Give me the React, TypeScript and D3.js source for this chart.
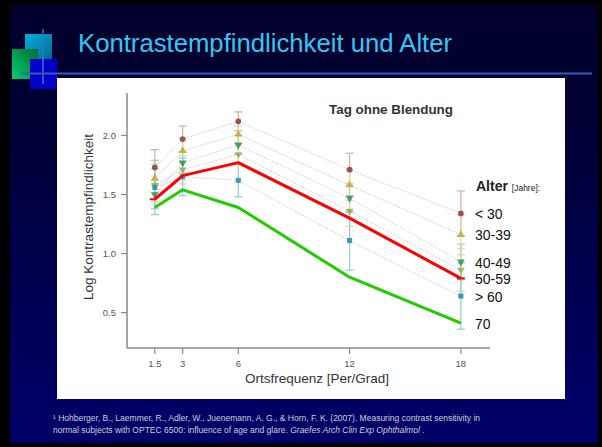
import * as d3 from "d3";

// slide + chart data
const freqs = [1.5, 3, 6, 12, 18];
const yTicks = [0.5, 1.0, 1.5, 2.0];
const groups = ["< 30", "30-39", "40-49", "50-59", "> 60"];

const lt30 = [1.73, 1.97, 2.12, 1.71, 1.34];
const age30 = [1.64, 1.87, 2.01, 1.58, 1.16];
const age40 = [1.50, 1.77, 1.92, 1.47, 0.93];
const age50 = [1.58, 1.71, 1.84, 1.36, 0.86];
const gt60 = [1.56, 1.65, 1.62, 1.11, 0.64];

const sd30 = [0.15, 0.11, 0.08, 0.14, 0.19];
const sd39 = [0.12, 0.1, 0.07, 0.13, 0.17];
const sd49 = [0.12, 0.09, 0.08, 0.12, 0.15];
const sd59 = [0.14, 0.12, 0.09, 0.13, 0.18];
const sd60 = [0.23, 0.16, 0.14, 0.25, 0.28];

const redLine = [1.46, 1.66, 1.77, 1.3, 0.79];
const greenLine = [1.39, 1.54, 1.39, 0.8, 0.41];

const labelNames = ["< 30", "30-39", "40-49", "50-59", "> 60", "70"];

const W = 602;
const H = 447;
const PLOT = { left: 127, right: 490, top: 93, bottom: 348 };

const FONT = "'Liberation Sans', Arial, Helvetica, sans-serif";

const x = d3.scaleLinear().domain([0, 19.57]).range([PLOT.left, PLOT.right]);
const y = d3.scaleLinear().domain([0.2, 2.36]).range([PLOT.bottom, PLOT.top]);

const seriesDefs = [
  { name: groups[0], values: lt30, sd: sd30, color: "#8e3b32", err: "#d6b0a4", shape: d3.symbolCircle, rot: 0 },
  { name: groups[1], values: age30, sd: sd39, color: "#c9a43c", err: "#ecd4a4", shape: d3.symbolTriangle, rot: 0 },
  { name: groups[2], values: age40, sd: sd49, color: "#2f8f50", err: "#a3d1ae", shape: d3.symbolTriangle, rot: 180 },
  { name: groups[3], values: age50, sd: sd59, color: "#9aae50", err: "#d3daa8", shape: d3.symbolTriangle, rot: 180 },
  { name: groups[4], values: gt60, sd: sd60, color: "#1f8fa6", err: "#96cbd5", shape: d3.symbolSquare, rot: 0 },
];

const labelAnchors = [lt30[4], age30[4], age40[4], redLine[4], gt60[4], greenLine[4]];

const line = d3
  .line<number>()
  .x((_, i) => x(freqs[i]))
  .y((d) => y(d));

export default function App() {
  return (
    <svg
      width={W}
      height={H}
      viewBox={`0 0 ${W} ${H}`}
      style={{ position: "absolute", left: 0, top: 0 }}
      fontFamily={FONT}
    >
      <defs>
        <linearGradient id="bg" x1="0" y1="0" x2="0" y2="1">
          <stop offset="0" stopColor="#00002a" />
          <stop offset="0.25" stopColor="#000033" />
          <stop offset="1" stopColor="#00006a" />
        </linearGradient>
        <linearGradient id="cyanSq" x1="0" y1="0" x2="1" y2="1">
          <stop offset="0" stopColor="#00aee0" />
          <stop offset="1" stopColor="#006a8e" />
        </linearGradient>
        <linearGradient id="greenSq" x1="0" y1="1" x2="1" y2="0">
          <stop offset="0" stopColor="#00d070" />
          <stop offset="1" stopColor="#006a30" />
        </linearGradient>
      </defs>

      {/* slide frame */}
      <rect x={0} y={0} width={W} height={H} fill="#000" />
      <rect x={10} y={5} width={588} height={438} fill="url(#bg)" />

      {/* corner squares */}
      <rect x={25} y={34} width={27} height={25} fill="url(#cyanSq)" />
      <rect x={12} y={49} width={26} height={30} fill="url(#greenSq)" />
      <rect x={30} y={59} width={27} height={30} fill="#0000c8" />
      <line x1={43} x2={43} y1={29} y2={84} stroke="#3a6fd0" strokeWidth={1.5} />
      <line x1={21} x2={592} y1={73.5} y2={73.5} stroke="#2f5fb8" strokeWidth={2} />

      <text x={78} y={52} fontSize={25.7} fill="#33c8f4">
        Kontrastempfindlichkeit und Alter
      </text>

      {/* white panel */}
      <rect x={57} y={78} width={508} height={321} fill="#fff" />

      {/* axes */}
      <line x1={PLOT.left} x2={PLOT.left} y1={PLOT.top} y2={PLOT.bottom} stroke="#8a8a8a" strokeWidth={1.5} />
      <line x1={PLOT.left} x2={PLOT.right} y1={PLOT.bottom} y2={PLOT.bottom} stroke="#8a8a8a" strokeWidth={1.5} />
      {yTicks.map((t) => (
        <g key={t}>
          <line x1={PLOT.left - 6} x2={PLOT.left} y1={y(t)} y2={y(t)} stroke="#8a8a8a" strokeWidth={1.2} />
          <text x={PLOT.left - 11} y={y(t) + 3.5} textAnchor="end" fontSize={9.5} fill="#555">
            {t.toFixed(1)}
          </text>
        </g>
      ))}
      {freqs.map((t) => (
        <g key={t}>
          <line x1={x(t)} x2={x(t)} y1={PLOT.bottom} y2={PLOT.bottom + 6} stroke="#8a8a8a" strokeWidth={1.2} />
          <text x={x(t)} y={PLOT.bottom + 19} textAnchor="middle" fontSize={9.5} fill="#555">
            {t}
          </text>
        </g>
      ))}
      <text
        transform={`translate(92.5, 217) rotate(-90)`}
        textAnchor="middle"
        fontSize={13.5}
        fill="#333"
      >
        Log Kontrastempfindlichkeit
      </text>
      <text x={317} y={383} textAnchor="middle" fontSize={13.5} fill="#333">
        Ortsfrequenz [Per/Grad]
      </text>
      <text x={391} y={114} textAnchor="middle" fontSize={13.4} fontWeight="bold" fill="#333">
        Tag ohne Blendung
      </text>

      {/* dotted connectors */}
      {seriesDefs.map((s) => (
        <path key={`l-${s.name}`} d={line(s.values) ?? undefined} fill="none" stroke="#cccccc" strokeWidth={1} strokeDasharray="1.5,1.5" />
      ))}

      {/* error bars */}
      {seriesDefs.map((s) =>
        s.values.map((v, i) => {
          const cx = x(freqs[i]);
          const hi = y(v + s.sd[i]);
          const lo = y(v - s.sd[i]);
          return (
            <g key={`e-${s.name}-${i}`} stroke={s.err} strokeWidth={1.2}>
              <line x1={cx} x2={cx} y1={hi} y2={lo} />
              <line x1={cx - 4} x2={cx + 4} y1={hi} y2={hi} />
              <line x1={cx - 4} x2={cx + 4} y1={lo} y2={lo} />
            </g>
          );
        }),
      )}

      {/* markers */}
      {seriesDefs.map((s) =>
        s.values.map((v, i) => (
          <path
            key={`m-${s.name}-${i}`}
            d={d3.symbol().type(s.shape).size(26)() ?? undefined}
            transform={`translate(${x(freqs[i])},${y(v)}) rotate(${s.rot})`}
            fill={s.color}
            opacity={0.85}
          />
        )),
      )}

      {/* highlighted lines */}
      <path d={line(redLine) ?? undefined} fill="none" stroke="#ff0000" strokeWidth={3} strokeLinejoin="round" />
      <line x1={x(freqs[0]) - 5} x2={x(freqs[0]) + 1} y1={y(redLine[0])} y2={y(redLine[0])} stroke="#ff0000" strokeWidth={2} />
      <line x1={x(freqs[4]) - 4} x2={x(freqs[4]) + 4} y1={y(redLine[4])} y2={y(redLine[4])} stroke="#ff0000" strokeWidth={2} />
      <path d={line(greenLine) ?? undefined} fill="none" stroke="#22cc00" strokeWidth={3} strokeLinejoin="round" />

      {/* legend */}
      <text x={476} y={191} fontSize={14} fontWeight="bold" fill="#222">
        Alter <tspan fontSize={8.5} fontWeight="normal">[Jahre]:</tspan>
      </text>
      {labelNames.map((n, i) => (
        <text key={n} x={475} y={y(labelAnchors[i]) + 2} dominantBaseline="middle" fontSize={14} fill="#111">
          {n}
        </text>
      ))}

      {/* footnote */}
      <text x={53} y={421} fontSize={8.5} fill="#cfcfcf">
        ¹ Hohberger, B., Laemmer, R., Adler, W., Juenemann, A. G., &amp; Horn, F. K. (2007). Measuring contrast sensitivity in
      </text>
      <text x={53} y={432.5} fontSize={8.5} fill="#cfcfcf">
        normal subjects with OPTEC 6500: influence of age and glare. <tspan fontStyle="italic">Graefes Arch Clin Exp Ophthalmol</tspan> .
      </text>
    </svg>
  );
}
